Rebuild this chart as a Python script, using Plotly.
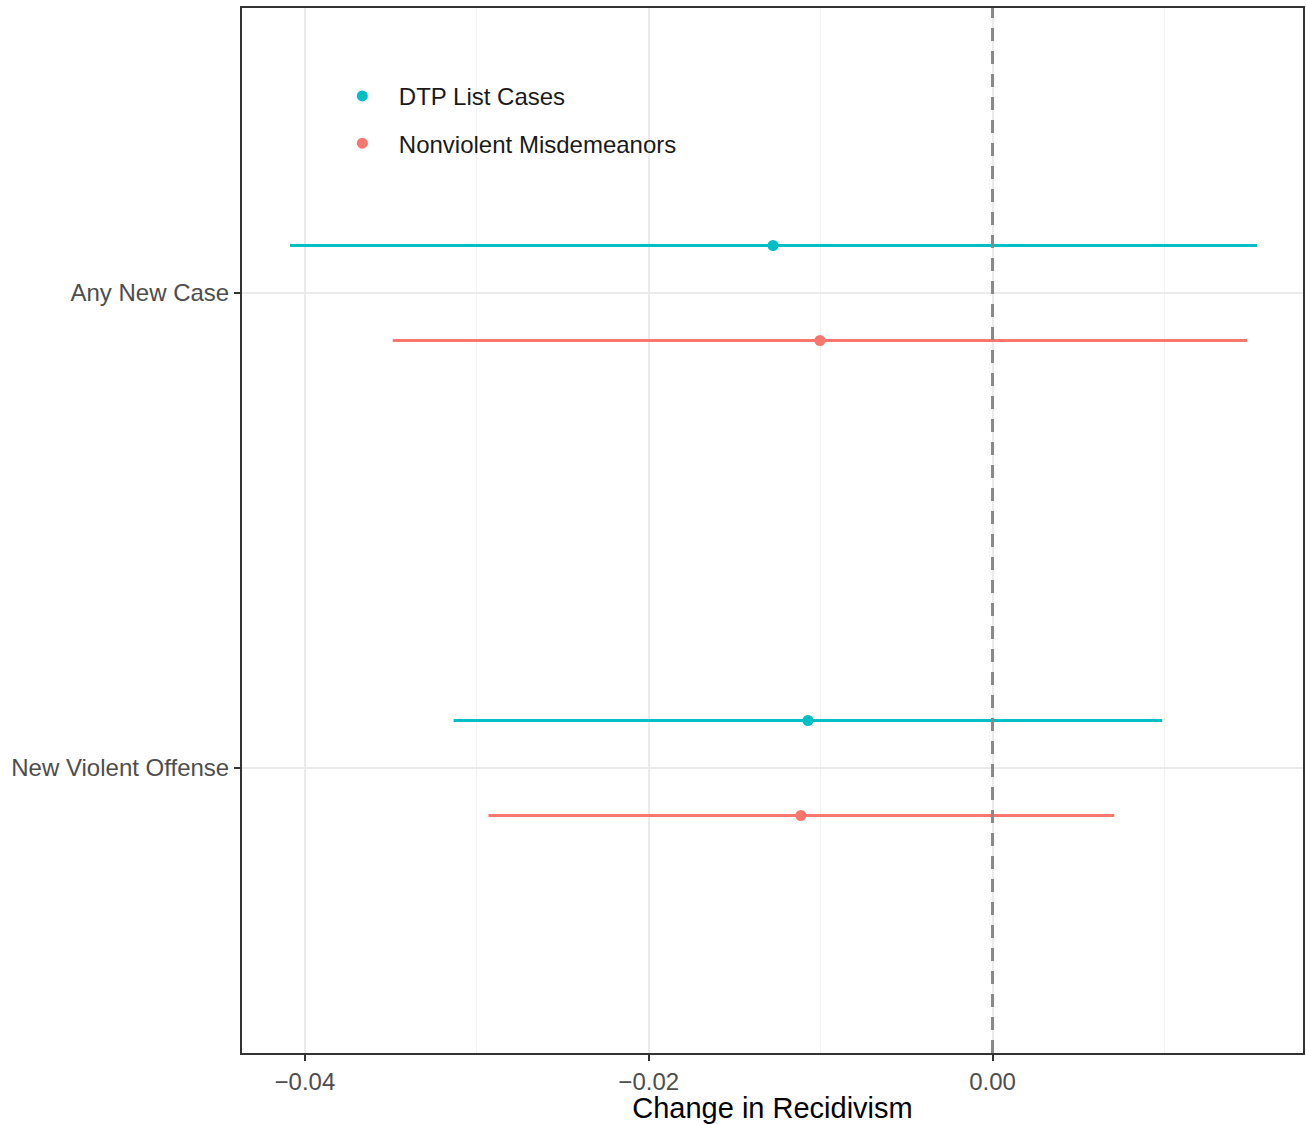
import plotly.graph_objects as go

categories = ["New Violent Offense", "Any New Case"]
series_names = ["DTP List Cases", "Nonviolent Misdemeanors"]
colors = ["#00BFC4", "#F8766D"]
# estimates and 95% CI (per category, order as categories)
estimates = {
    "DTP List Cases": [-0.01074, -0.01277],
    "Nonviolent Misdemeanors": [-0.01115, -0.01004],
}
lower = {
    "DTP List Cases": [-0.03135, -0.04087],
    "Nonviolent Misdemeanors": [-0.02932, -0.03489],
}
upper = {
    "DTP List Cases": [0.00987, 0.01538],
    "Nonviolent Misdemeanors": [0.00708, 0.01480],
}
dodge = {"DTP List Cases": 0.1, "Nonviolent Misdemeanors": -0.1}
x_ticks = [-0.04, -0.02, 0.00]
x_tick_labels = ["\u22120.04", "\u22120.02", "0.00"]

fig = go.Figure()
for i, name in enumerate(series_names):
    est = estimates[name]
    ys = [k + 1 + dodge[name] for k in range(len(categories))]
    fig.add_trace(go.Scatter(
        x=est, y=ys, mode="markers", name=name,
        legendgroup=name,
        marker=dict(color=colors[i], size=11),
        error_x=dict(type="data", symmetric=False,
                     array=[u - e for u, e in zip(upper[name], est)],
                     arrayminus=[e - l for l, e in zip(lower[name], est)],
                     color=colors[i], thickness=3.2, width=0),
    ))

fig.add_shape(type="line", xref="x", yref="paper", x0=0, x1=0, y0=0, y1=1,
              line=dict(color="#888888", width=3, dash="13px,10px"), layer="above")

fig.update_layout(
    width=1306, height=1124,
    margin=dict(l=242, r=1, t=8, b=71),
    plot_bgcolor="white", paper_bgcolor="white",
    font=dict(family="Liberation Sans, Arial, sans-serif"),
    showlegend=True,
    legend=dict(x=0.079, y=0.937, xanchor="left", yanchor="top",
                bgcolor="rgba(0,0,0,0)", font=dict(size=24, color="#1a1a1a"),
                tracegroupgap=13, itemwidth=63),
    xaxis=dict(range=[-0.04366, 0.01806], tickvals=x_ticks, ticktext=x_tick_labels,
               showgrid=True, gridcolor="#EBEBEB", gridwidth=2,
               minor=dict(tickvals=[-0.03, -0.01, 0.01], showgrid=True,
                          gridcolor="#F3F3F3", gridwidth=1, ticks=""),
               zeroline=False, showline=True, linecolor="#333333", linewidth=2,
               mirror=True, ticks="outside", ticklen=6, tickwidth=2, tickcolor="#333333",
               tickfont=dict(size=24, color="#4D4D4D"),
               title=dict(text="Change in Recidivism", font=dict(size=29, color="black"), standoff=2)),
    yaxis=dict(range=[0.4, 2.6], tickvals=[1, 2], ticktext=categories,
               showgrid=True, gridcolor="#EBEBEB", gridwidth=2,
               zeroline=False, showline=True, linecolor="#333333", linewidth=2,
               mirror=True, ticks="outside", ticklen=6, tickwidth=2, tickcolor="#333333",
               tickfont=dict(size=24, color="#4D4D4D")),
)

fig.write_html("out.html", config={"displayModeBar": False},
               post_script="document.body.style.margin='0';document.body.style.overflow='hidden';")
